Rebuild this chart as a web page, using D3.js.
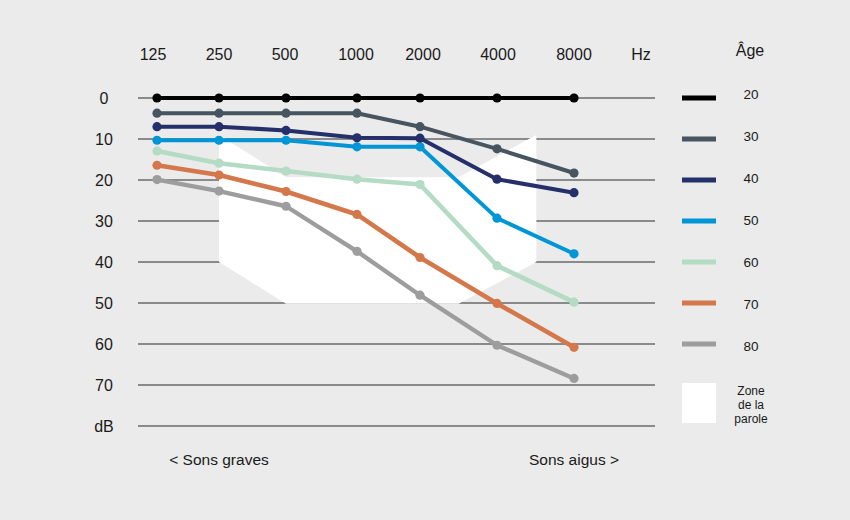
<!DOCTYPE html>
<html>
<head>
<meta charset="utf-8">
<script src="https://cdn.jsdelivr.net/npm/d3@7"></script>
<style>
  html, body { margin: 0; padding: 0; background: #ebebeb; }
  svg { display: block; font-family: "Liberation Sans", Arial, Helvetica, sans-serif; }
</style>
</head>
<body>
<svg id="chart" width="850" height="520"></svg>
<script>
// ---- DATA ----
const frequencies = [125, 250, 500, 1000, 2000, 4000, 8000];
const freqLabels = ["125", "250", "500", "1000", "2000", "4000", "8000"];
const unitLabel = "Hz";
const ages = ["20", "30", "40", "50", "60", "70", "80"];
const loss20 = [0, 0, 0, 0, 0, 0, 0];
const loss30 = [3.7, 3.7, 3.7, 3.7, 7, 12.4, 18.3];
const loss40 = [7, 7, 7.9, 9.7, 9.8, 19.8, 23.1];
const loss50 = [10.3, 10.3, 10.3, 11.9, 11.9, 29.3, 38];
const loss60 = [12.9, 15.9, 17.8, 19.8, 21.1, 40.9, 49.8];
const loss70 = [16.4, 18.8, 22.8, 28.4, 38.9, 50.1, 60.8];
const loss80 = [19.9, 22.7, 26.4, 37.4, 48.1, 60.3, 68.4];
const dbTicks = [0, 10, 20, 30, 40, 50, 60, 70, 80];
const dbTickLabels = ["0", "10", "20", "30", "40", "50", "60", "70", "dB"];
// speech zone outline (frequency in Hz, level in dB)
const speechFreq = [250, 500, 2830, 5700, 5700, 2830, 500, 250];
const speechDb   = [9, 19.3, 19.3, 9, 40, 50.2, 50.2, 40];
const legendTitle = "Âge";
const speechLabel = ["Zone", "de la", "parole"];
const lowLabel = "< Sons graves";
const highLabel = "Sons aigus >";

// ---- STYLE ----
const colors = ["#000000", "#46555f", "#252f69", "#0096d6", "#b4dbc3", "#d4784c", "#9d9d9d"];
const widths = [4, 4, 4, 4, 4.6, 4.6, 4.4];
const series = [loss20, loss30, loss40, loss50, loss60, loss70, loss80];

const svg = d3.select("#chart");
const textColor = "#1a1a1a";

// piecewise log scale on the non-uniform column positions
const x = d3.scaleLog().domain(frequencies)
  .range([157, 219, 286, 357, 420, 497, 574]);
const xLabel = d3.scaleOrdinal().domain([...freqLabels, unitLabel])
  .range([153, 219, 285, 356, 423, 498, 574, 641]);
const y = d3.scaleLinear().domain([0, 80]).range([98, 426]);

// grid lines
svg.append("g").selectAll("line").data(dbTicks).join("line")
  .attr("x1", 138).attr("x2", 655)
  .attr("y1", d => y(d)).attr("y2", d => y(d))
  .attr("stroke", "#6a6a6a").attr("stroke-width", 1.4);

// y labels
svg.append("g").selectAll("text").data(dbTicks).join("text")
  .attr("x", 104).attr("y", d => y(d))
  .attr("dy", "0.36em")
  .attr("text-anchor", "middle")
  .attr("font-size", 16).attr("fill", textColor)
  .text((d, i) => dbTickLabels[i]);

// top labels
svg.append("g").selectAll("text").data([...freqLabels, unitLabel]).join("text")
  .attr("x", d => xLabel(d)).attr("y", 60)
  .attr("text-anchor", "middle")
  .attr("font-size", 16).attr("fill", textColor)
  .text(d => d);

// speech zone
const zonePts = speechFreq.map((f, i) => [x(f), y(speechDb[i])]);
svg.append("path")
  .attr("d", d3.line()(zonePts) + "Z")
  .attr("fill", "#ffffff");

// series lines (draw oldest first so younger on top)
const lineGen = d3.line().x((d, i) => x(frequencies[i])).y(d => y(d));
const order = d3.range(series.length).reverse();
order.forEach(si => {
  const g = svg.append("g");
  g.append("path").datum(series[si])
    .attr("d", lineGen)
    .attr("fill", "none")
    .attr("stroke", colors[si])
    .attr("stroke-width", widths[si])
    .attr("stroke-linejoin", "round");
  g.selectAll("circle").data(series[si]).join("circle")
    .attr("cx", (d, i) => x(frequencies[i]))
    .attr("cy", d => y(d))
    .attr("r", 4.6)
    .attr("fill", colors[si]);
});

// legend
svg.append("text").attr("x", 750).attr("y", 56)
  .attr("text-anchor", "middle").attr("font-size", 16).attr("fill", textColor)
  .text(legendTitle);
const legendTextY = d3.scaleLinear().domain([0, 6]).range([99, 351]);
ages.forEach((a, i) => {
  svg.append("line")
    .attr("x1", 682).attr("x2", 716)
    .attr("y1", y(i * 10)).attr("y2", y(i * 10))
    .attr("stroke", colors[i]).attr("stroke-width", 5);
  svg.append("text")
    .attr("x", 751).attr("y", legendTextY(i))
    .attr("text-anchor", "middle").attr("font-size", 13.5).attr("fill", textColor)
    .text(a);
});
svg.append("rect").attr("x", 682).attr("y", 383).attr("width", 34).attr("height", 40)
  .attr("fill", "#ffffff");
speechLabel.forEach((t, i) => {
  svg.append("text")
    .attr("x", 751).attr("y", 395 + i * 14)
    .attr("text-anchor", "middle").attr("font-size", 12).attr("fill", textColor)
    .text(t);
});

// bottom labels
svg.append("text").attr("x", x(250)).attr("y", 465)
  .attr("text-anchor", "middle").attr("font-size", 15.5).attr("fill", textColor)
  .text(lowLabel);
svg.append("text").attr("x", x(8000)).attr("y", 465)
  .attr("text-anchor", "middle").attr("font-size", 15.5).attr("fill", textColor)
  .text(highLabel);
</script>
</body>
</html>
